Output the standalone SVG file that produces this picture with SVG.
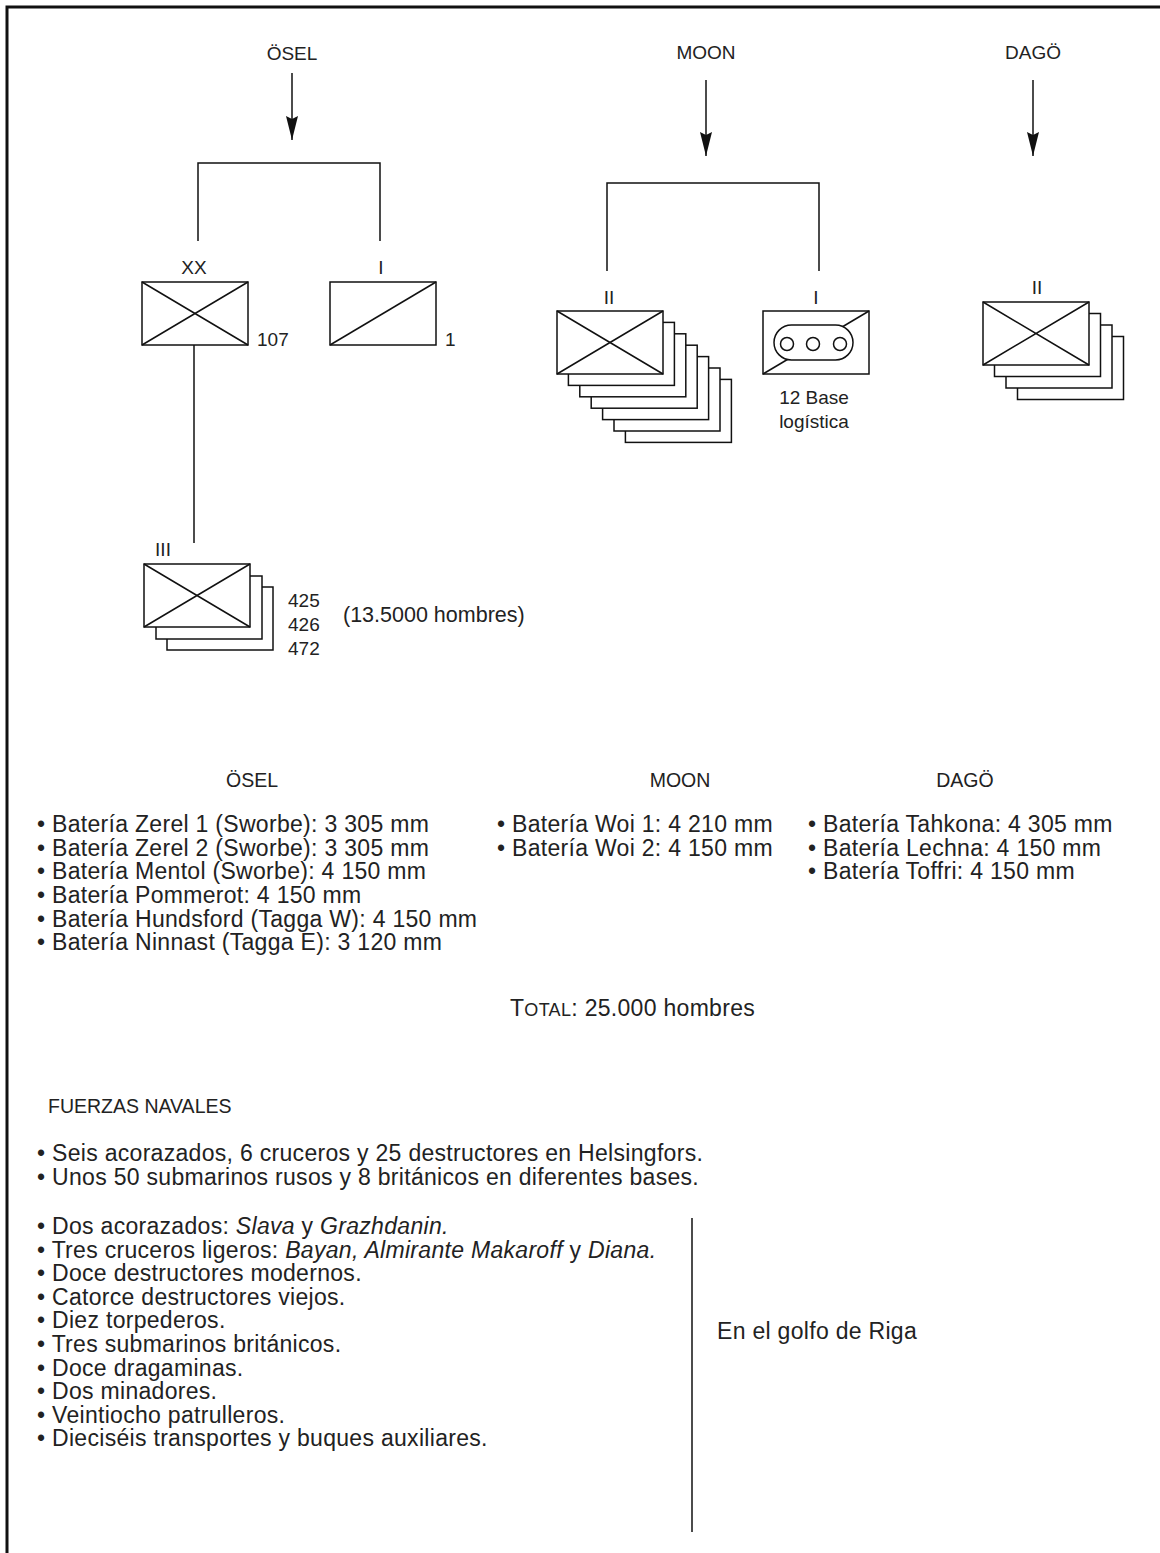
<svg xmlns="http://www.w3.org/2000/svg" width="1160" height="1553" viewBox="0 0 1160 1553">
<defs>
<style>
.t{font-family:"Liberation Sans",Arial,sans-serif;fill:#222;font-size:23px;letter-spacing:0.3px}
.h{font-family:"Liberation Sans",Arial,sans-serif;fill:#222;font-size:19.5px}
.lb{font-family:"Liberation Sans",Arial,sans-serif;fill:#222;font-size:19px}
.note{font-family:"Liberation Sans",Arial,sans-serif;fill:#222;font-size:21.5px}
.box{fill:#fff;stroke:#111;stroke-width:1.5}
.ln{fill:none;stroke:#111;stroke-width:1.5}
.mid{text-anchor:middle}
.it{font-style:italic}
</style>
<marker id="ah" markerUnits="userSpaceOnUse" viewBox="0 0 24 12" refX="24" refY="6" markerWidth="24" markerHeight="12" orient="auto">
<path d="M0,0 L24,6 L0,12 L3,6 Z" fill="#111"/>
</marker>
<symbol id="xbox" overflow="visible">
<rect class="box" x="0" y="0" width="106" height="63"/>
<path class="ln" d="M0,0 L106,63 M0,63 L106,0"/>
</symbol>
</defs>
<rect x="0" y="0" width="1160" height="1553" fill="#fff"/>
<path d="M7,1553 L7,7 L1160,7" fill="none" stroke="#111" stroke-width="3"/>

<g id="connectors">
<line class="ln" x1="292" y1="73" x2="292" y2="140" marker-end="url(#ah)"/>
<line class="ln" x1="706" y1="80" x2="706" y2="156" marker-end="url(#ah)"/>
<line class="ln" x1="1033" y1="80" x2="1033" y2="156" marker-end="url(#ah)"/>
<path class="ln" d="M198,241 L198,163 L380,163 L380,241"/>
<path class="ln" d="M607,271 L607,183 L819,183 L819,271"/>
<line class="ln" x1="194" y1="345" x2="194" y2="543"/>
</g>

<g id="label-osel"><text class="lb mid" x="292" y="60">ÖSEL</text></g>
<g id="label-moon"><text class="lb mid" x="706" y="59">MOON</text></g>
<g id="label-dago"><text class="lb mid" x="1033" y="59">DAGÖ</text></g>

<g id="node-xx">
<text class="lb mid" x="194" y="274">XX</text>
<use href="#xbox" x="142" y="282"/>
<text class="lb" x="257" y="346">107</text>
</g>

<g id="node-i-osel">
<text class="lb mid" x="381" y="274">I</text>
<rect class="box" x="330" y="282" width="106" height="63"/>
<line class="ln" x1="330" y1="345" x2="436" y2="282"/>
<text class="lb" x="445" y="346">1</text>
</g>

<g id="node-iii">
<text class="lb mid" x="163" y="556">III</text>
<rect class="box" x="167" y="587" width="106" height="63"/>
<rect class="box" x="156" y="576" width="106" height="63"/>
<use href="#xbox" x="144" y="564"/>
<text class="lb" x="288" y="607">425</text>
<text class="lb" x="288" y="631">426</text>
<text class="lb" x="288" y="655">472</text>
<text class="note" x="343" y="622">(13.5000 hombres)</text>
</g>

<g id="node-ii-moon">
<text class="lb mid" x="609" y="304">II</text>
<rect class="box" x="625.4" y="379.4" width="106" height="63"/>
<rect class="box" x="614" y="368" width="106" height="63"/>
<rect class="box" x="602.6" y="356.6" width="106" height="63"/>
<rect class="box" x="591.2" y="345.2" width="106" height="63"/>
<rect class="box" x="579.8" y="333.8" width="106" height="63"/>
<rect class="box" x="568.4" y="322.4" width="106" height="63"/>
<use href="#xbox" x="557" y="311"/>
</g>

<g id="node-i-moon">
<text class="lb mid" x="816" y="304">I</text>
<rect class="box" x="763" y="311" width="106" height="63"/>
<line class="ln" x1="763" y1="374" x2="869" y2="311"/>
<rect class="box" x="774" y="325" width="79" height="35" rx="17.5"/>
<circle class="box" cx="787" cy="344" r="6.5"/>
<circle class="box" cx="813" cy="344" r="6.5"/>
<circle class="box" cx="840" cy="344" r="6.5"/>
<text class="lb mid" x="814" y="404">12 Base</text>
<text class="lb mid" x="814" y="428">logística</text>
</g>

<g id="node-ii-dago">
<text class="lb mid" x="1037" y="294">II</text>
<rect class="box" x="1017.5" y="336.5" width="106" height="63"/>
<rect class="box" x="1006" y="325" width="106" height="63"/>
<rect class="box" x="994.5" y="313.5" width="106" height="63"/>
<use href="#xbox" x="983" y="302"/>
</g>

<g id="batteries">
<text class="h mid" x="252" y="787">ÖSEL</text>
<text class="h mid" x="680" y="787">MOON</text>
<text class="h mid" x="965" y="787">DAGÖ</text>
<text class="t" x="37" y="832">• Batería Zerel 1 (Sworbe): 3 305 mm</text>
<text class="t" x="37" y="856">• Batería Zerel 2 (Sworbe): 3 305 mm</text>
<text class="t" x="37" y="879">• Batería Mentol (Sworbe): 4 150 mm</text>
<text class="t" x="37" y="903">• Batería Pommerot: 4 150 mm</text>
<text class="t" x="37" y="927">• Batería Hundsford (Tagga W): 4 150 mm</text>
<text class="t" x="37" y="950">• Batería Ninnast (Tagga E): 3 120 mm</text>
<text class="t" x="497" y="832">• Batería Woi 1: 4 210 mm</text>
<text class="t" x="497" y="856">• Batería Woi 2: 4 150 mm</text>
<text class="t" x="808" y="832">• Batería Tahkona: 4 305 mm</text>
<text class="t" x="808" y="856">• Batería Lechna: 4 150 mm</text>
<text class="t" x="808" y="879">• Batería Toffri: 4 150 mm</text>
<text class="t" x="510" y="1016">T<tspan font-size="18">OTAL</tspan>: 25.000 hombres</text>
</g>

<g id="naval">
<text class="h" x="48" y="1113">FUERZAS NAVALES</text>
<text class="t" x="37" y="1161">• Seis acorazados, 6 cruceros y 25 destructores en Helsingfors.</text>
<text class="t" x="37" y="1185">• Unos 50 submarinos rusos y 8 británicos en diferentes bases.</text>
<text class="t" x="37" y="1234">• Dos acorazados: <tspan class="it">Slava</tspan> y <tspan class="it">Grazhdanin.</tspan></text>
<text class="t" x="37" y="1258">• Tres cruceros ligeros: <tspan class="it">Bayan, Almirante Makaroff</tspan> y <tspan class="it">Diana.</tspan></text>
<text class="t" x="37" y="1281">• Doce destructores modernos.</text>
<text class="t" x="37" y="1305">• Catorce destructores viejos.</text>
<text class="t" x="37" y="1328">• Diez torpederos.</text>
<text class="t" x="37" y="1352">• Tres submarinos británicos.</text>
<text class="t" x="37" y="1376">• Doce dragaminas.</text>
<text class="t" x="37" y="1399">• Dos minadores.</text>
<text class="t" x="37" y="1423">• Veintiocho patrulleros.</text>
<text class="t" x="37" y="1446">• Dieciséis transportes y buques auxiliares.</text>
<line class="ln" x1="692" y1="1218" x2="692" y2="1532"/>
<text class="t" x="717" y="1339">En el golfo de Riga</text>
</g>
</svg>
